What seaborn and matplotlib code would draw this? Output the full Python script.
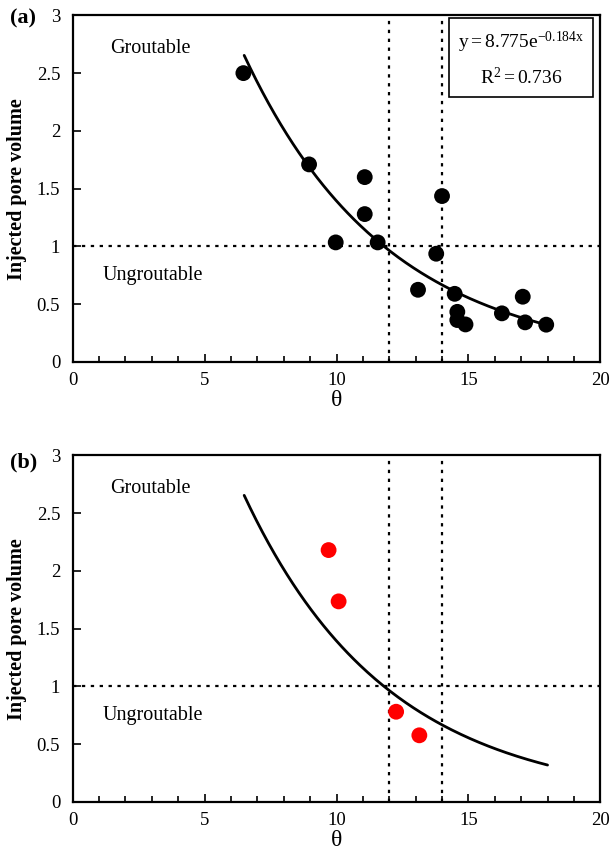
import numpy as np
import pandas as pd
import seaborn as sns
import matplotlib as mpl
import matplotlib.pyplot as plt
from matplotlib.ticker import MultipleLocator, FuncFormatter

sns.set_style("ticks")
plt.rcParams['font.family'] = ['Liberation Serif', 'DejaVu Serif']
plt.rcParams['mathtext.fontset'] = 'custom'
plt.rcParams['mathtext.rm'] = 'Liberation Serif'
plt.rcParams['mathtext.it'] = 'Liberation Serif:italic'
plt.rcParams['text.color'] = 'black'
plt.rcParams['axes.labelcolor'] = 'black'
plt.rcParams['axes.edgecolor'] = 'black'
plt.rcParams['xtick.color'] = 'black'
plt.rcParams['ytick.color'] = 'black'

# panel (a): measured data
theta_a = [6.47, 8.96, 11.07, 11.07, 9.97, 11.56, 14.0, 13.78, 13.09, 14.48,
           14.58, 14.58, 14.89, 16.27, 17.06, 17.15, 17.95]
pv_a = [2.50, 1.71, 1.60, 1.28, 1.035, 1.035, 1.436, 0.937, 0.625, 0.59,
        0.434, 0.363, 0.325, 0.421, 0.565, 0.343, 0.323]

# panel (b): validation data
theta_b = [9.70, 10.08, 12.26, 13.14]
pv_b = [2.18, 1.736, 0.781, 0.577]

# exponential fit y = A exp(B x), as printed on the chart
fit_A = 8.775
fit_B = -0.184
fit_r2 = 0.736
fit_xmin, fit_xmax = 6.5, 18.0

df_a = pd.DataFrame({"theta": theta_a, "pv": pv_a})
df_b = pd.DataFrame({"theta": theta_b, "pv": pv_b})
xfit = np.linspace(fit_xmin, fit_xmax, 200)
df_fit = pd.DataFrame({"theta": xfit, "pv": fit_A * np.exp(fit_B * xfit)})

fig = plt.figure(figsize=(6.10, 8.57), dpi=100)
ax_a = fig.add_axes([0.1192, 0.5776, 0.8649, 0.4045])
ax_b = fig.add_axes([0.1192, 0.0642, 0.8649, 0.4045])


def style_axes(ax):
    ax.set_xlim(0, 20)
    ax.set_ylim(0, 3)
    ax.xaxis.set_major_locator(MultipleLocator(5))
    ax.xaxis.set_minor_locator(MultipleLocator(1))
    ax.yaxis.set_major_locator(MultipleLocator(0.5))
    fmt = FuncFormatter(lambda v, p: '%g' % v)
    ax.xaxis.set_major_formatter(fmt)
    ax.yaxis.set_major_formatter(fmt)
    ax.tick_params(which='both', direction='in', top=False, right=False,
                   labelsize=13.5, width=1.2)
    ax.tick_params(axis='x', pad=7)
    ax.tick_params(axis='y', pad=9)
    ax.tick_params(which='major', length=6)
    ax.tick_params(which='minor', length=4)
    for s in ax.spines.values():
        s.set_linewidth(1.6)
    ax.axvline(12, color='black', ls=(0, (1.5, 2.5)), lw=1.6)
    ax.axvline(14, color='black', ls=(0, (1.5, 2.5)), lw=1.6)
    ax.axhline(1, color='black', ls=(0, (1.5, 2.5)), lw=1.6)
    ax.set_xlabel("θ", fontsize=17, labelpad=1)
    ax.set_ylabel("Injected pore volume", fontsize=14.5, fontweight='bold', labelpad=7)
    ax.text(1.4, 2.71, "Groutable", fontsize=14.5, va='center')
    ax.text(1.15, 0.75, "Ungroutable", fontsize=14.5, va='center')


sns.lineplot(data=df_fit, x="theta", y="pv", ax=ax_a, color='black', lw=2)
sns.scatterplot(data=df_a, x="theta", y="pv", ax=ax_a, color='black', s=130,
                edgecolor='none', zorder=5)
style_axes(ax_a)
ax_a.text(17.0, 2.62, "$\\mathregular{y = 8.775e^{-0.184x}}$\n$\\mathregular{R^2 = 0.736}$",
          ha='center', va='center', fontsize=14, linespacing=1.7,
          bbox=dict(boxstyle='square,pad=0.45', fc='white', ec='black', lw=1.2))

sns.lineplot(data=df_fit, x="theta", y="pv", ax=ax_b, color='black', lw=2)
sns.scatterplot(data=df_b, x="theta", y="pv", ax=ax_b, color='#ff0000', s=130,
                edgecolor='none', zorder=5)
style_axes(ax_b)

fig.text(0.016, 0.978, "(a)", fontsize=16, fontweight='bold', va='center')
fig.text(0.016, 0.460, "(b)", fontsize=16, fontweight='bold', va='center')

fig.savefig("out.png", dpi=100)
